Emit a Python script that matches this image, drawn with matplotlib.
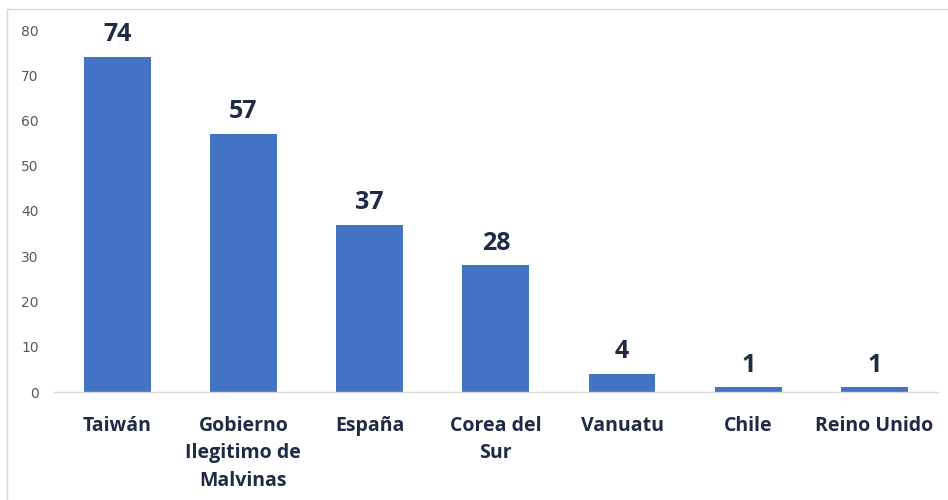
import matplotlib.pyplot as plt
import matplotlib.patches as mpatches

# Data
paises = ['Taiwán', 'Gobierno\nIlegitimo de\nMalvinas', 'España', 'Corea del\nSur',
          'Vanuatu', 'Chile', 'Reino Unido']
valores = [74, 57, 37, 28, 4, 1, 1]
yticks = [0, 10, 20, 30, 40, 50, 60, 70, 80]

bar_color = '#4472C4'
label_color = '#1F2A44'

fig = plt.figure(figsize=(9.48, 5), dpi=100)
ax = fig.add_axes([0.057, 0.216, 0.932, 0.724])

x = range(len(paises))
ax.bar(x, valores, width=0.53, color=bar_color, zorder=2)

for xi, v in zip(x, valores):
    ax.annotate(str(v), (xi, v), xytext=(0, 7), textcoords='offset points',
                ha='center', va='bottom', fontsize=18, fontweight='bold',
                color=label_color, family='Open Sans')

ax.set_xlim(-0.5, len(paises) - 0.5)
ax.set_ylim(0, 80)
ax.set_yticks(yticks)
ax.set_yticklabels([str(t) for t in yticks], fontsize=10, color='#595959')
ax.set_xticks(list(x))
ax.set_xticklabels(paises, fontsize=14, fontweight='bold', color=label_color,
                   family='Open Sans', linespacing=1.5)
ax.tick_params(axis='both', length=0)
ax.tick_params(axis='y', pad=11)
ax.tick_params(axis='x', pad=17)

for side in ['top', 'right', 'left']:
    ax.spines[side].set_visible(False)
ax.spines['bottom'].set_color('#D9D9D9')
ax.spines['bottom'].set_linewidth(1)

# chart area border (left and top edges visible)
fig.add_artist(mpatches.Rectangle((0.0075, -0.01), 1.0, 0.992, transform=fig.transFigure,
                                  fill=False, edgecolor='#D9D9D9', linewidth=1))

fig.savefig('out.png', dpi=100)
